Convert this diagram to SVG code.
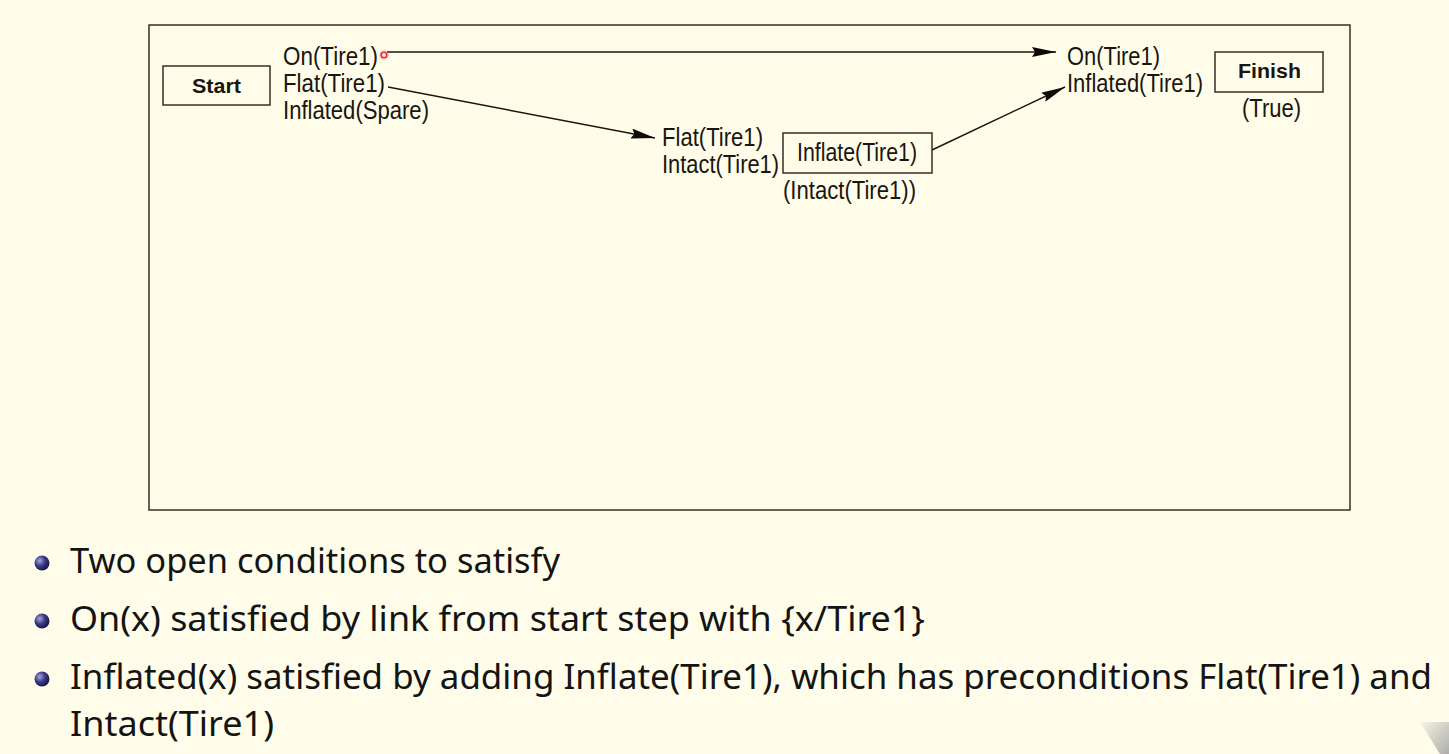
<svg xmlns="http://www.w3.org/2000/svg" width="1449" height="754" viewBox="0 0 1449 754">
<defs>
<style>
.lbl{font-family:"Liberation Sans",Arial,sans-serif;font-size:25px;fill:#1a1510}
.bold{font-weight:bold;font-size:21px}
.box{fill:none;stroke:#3a2c22;stroke-width:1.5}
.conn{stroke:#1a1510;stroke-width:1.4;fill:none}
.bul{font-family:"Noto Sans","DejaVu Sans",sans-serif;font-size:34px;fill:#141414}
</style>
<marker id="arr" viewBox="0 0 24 10" refX="24" refY="5" markerWidth="24" markerHeight="10" markerUnits="userSpaceOnUse" orient="auto">
<path d="M0,0 L24,5 L0,10 L3,5 z" fill="#0d0b08"/>
</marker>
<radialGradient id="ball" cx="0.35" cy="0.35" r="0.7">
<stop offset="0" stop-color="#a7a7d8"/>
<stop offset="0.5" stop-color="#3b3b8a"/>
<stop offset="1" stop-color="#141440"/>
</radialGradient>
<linearGradient id="corner" x1="0" y1="0" x2="1" y2="1">
<stop offset="0" stop-color="#f4f2e4"/>
<stop offset="1" stop-color="#9a9a9a"/>
</linearGradient>
</defs>
<rect x="0" y="0" width="1449" height="754" fill="#fffde9"/>
<rect id="frame" x="149" y="25" width="1201" height="485" class="box"/>

<g id="connectors">
<line class="conn" x1="387" y1="52" x2="1056" y2="52" marker-end="url(#arr)"/>
<line class="conn" x1="388" y1="87" x2="655" y2="138" marker-end="url(#arr)"/>
<line class="conn" x1="932" y1="150" x2="1065" y2="87" marker-end="url(#arr)"/>
</g>

<g id="start">
<rect x="163" y="66" width="107" height="39" class="box"/>
<text class="lbl bold" x="192" y="93" textLength="49" lengthAdjust="spacingAndGlyphs">Start</text>
<text class="lbl" x="283" y="65" textLength="95" lengthAdjust="spacingAndGlyphs">On(Tire1)</text>
<text class="lbl" x="283" y="92" textLength="102" lengthAdjust="spacingAndGlyphs">Flat(Tire1)</text>
<text class="lbl" x="283" y="119" textLength="146" lengthAdjust="spacingAndGlyphs">Inflated(Spare)</text>
</g>

<g id="pointer">
<circle cx="384" cy="55" r="5" fill="#ff8080" opacity="0.35"/>
<circle cx="384" cy="55" r="2.8" fill="#fff6f0" stroke="#e8302a" stroke-width="1.6"/>
</g>

<g id="inflate">
<text class="lbl" x="662" y="146" textLength="101" lengthAdjust="spacingAndGlyphs">Flat(Tire1)</text>
<text class="lbl" x="662" y="173" textLength="117" lengthAdjust="spacingAndGlyphs">Intact(Tire1)</text>
<rect x="783" y="133" width="149" height="40" class="box"/>
<text class="lbl" x="797" y="161" textLength="120" lengthAdjust="spacingAndGlyphs">Inflate(Tire1)</text>
<text class="lbl" x="783" y="199" textLength="133" lengthAdjust="spacingAndGlyphs">(Intact(Tire1))</text>
</g>

<g id="finish">
<text class="lbl" x="1067" y="65" textLength="93" lengthAdjust="spacingAndGlyphs">On(Tire1)</text>
<text class="lbl" x="1067" y="92" textLength="136" lengthAdjust="spacingAndGlyphs">Inflated(Tire1)</text>
<rect x="1215" y="52" width="108" height="40" class="box"/>
<text class="lbl bold" x="1238" y="78" textLength="63" lengthAdjust="spacingAndGlyphs">Finish</text>
<text class="lbl" x="1242" y="117" textLength="59" lengthAdjust="spacingAndGlyphs">(True)</text>
</g>

<g id="bullets">
<circle cx="42" cy="563" r="7.5" fill="url(#ball)"/>
<circle cx="42" cy="621" r="7.5" fill="url(#ball)"/>
<circle cx="42" cy="679" r="7.5" fill="url(#ball)"/>
<text class="bul" x="70" y="573" textLength="490" lengthAdjust="spacingAndGlyphs">Two open conditions to satisfy</text>
<text class="bul" x="70" y="631" textLength="855" lengthAdjust="spacingAndGlyphs">On(x) satisfied by link from start step with {x/Tire1}</text>
<text class="bul" x="70" y="689" textLength="1362" lengthAdjust="spacingAndGlyphs">Inflated(x) satisfied by adding Inflate(Tire1), which has preconditions Flat(Tire1) and</text>
<text class="bul" x="70" y="736" textLength="204" lengthAdjust="spacingAndGlyphs">Intact(Tire1)</text>
</g>

<polygon id="corner" points="1420,722 1449,722 1449,754 1440,754" fill="url(#corner)" opacity="0.8"/>
</svg>
